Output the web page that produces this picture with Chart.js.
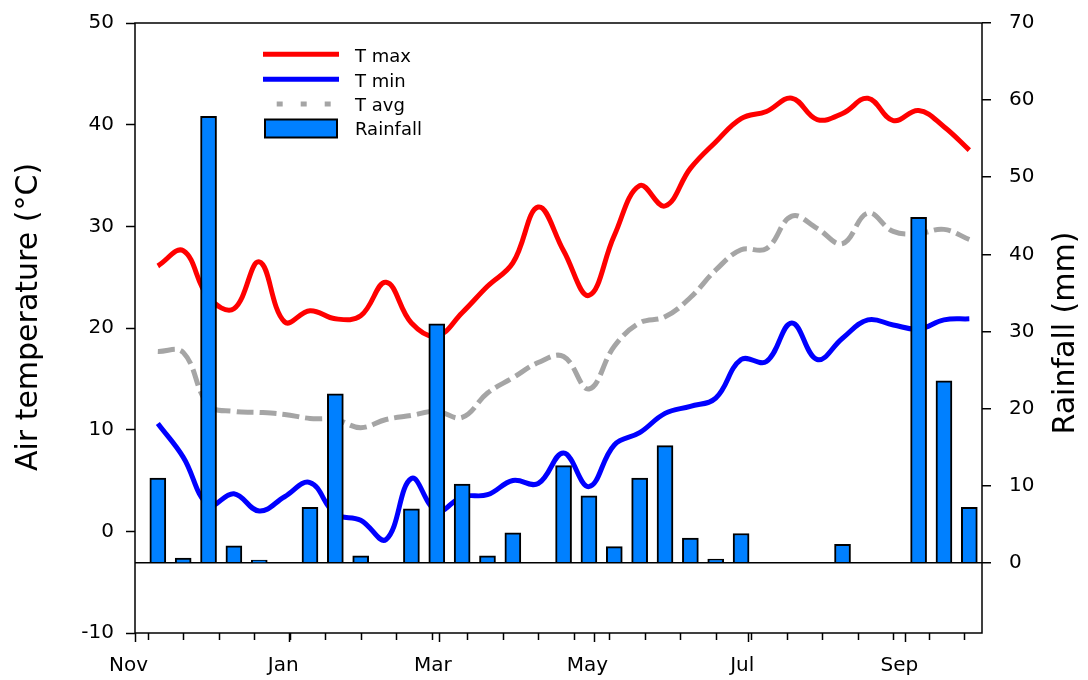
<!DOCTYPE html>
<html>
<head>
<meta charset="utf-8">
<script src="https://cdn.jsdelivr.net/npm/chart.js@4.4.1/dist/chart.umd.min.js"></script>
<style>
html,body{margin:0;padding:0;background:#fff;}
canvas{display:block;}
</style>
</head>
<body>
<canvas id="c" width="1088" height="680"></canvas>
<script>
// ---- data (days counted from 1 Nov) ----
const dekadDays = [9,19,29,39,49,59,69,79,89,99,109,119,129,139,149,159,169,179,189,199,209,219,229,239,249,259,269,279,289,299,309,319,329];
const tmax = [26.1,27.6,23.0,21.9,26.5,20.6,21.7,20.9,21.2,24.5,20.5,19.2,21.5,24.1,26.4,31.9,27.6,23.2,29.1,34.0,32.0,35.7,38.3,40.6,41.3,42.6,40.5,41.1,42.6,40.4,41.4,39.8,37.5];
const tmin = [10.6,7.3,2.6,3.7,2.0,3.4,4.8,1.7,1.1,-0.8,5.2,2.0,3.4,3.6,5.0,4.7,7.7,4.4,8.5,9.7,11.6,12.3,13.1,16.9,16.7,20.5,16.9,19.0,20.8,20.3,19.9,20.8,20.9];
const tavg = [17.7,17.6,12.4,11.8,11.7,11.5,11.1,11.0,10.2,11.0,11.4,11.8,11.2,13.6,15.1,16.6,17.2,14.0,18.2,20.5,21.1,23.0,25.7,27.7,27.8,31.0,29.8,28.3,31.3,29.5,29.3,29.7,28.7];
const rainfall = [11.0,0.6,57.9,2.2,0.35,0,7.2,21.9,0.9,0,7.0,31.0,10.2,0.9,3.9,0,12.6,8.7,2.1,11.0,15.2,3.2,0.5,3.8,0,0,0,2.4,0,0,44.8,23.6,7.2];
const monthDays = [0,61,120,181,242,304];
const monthLabels = ['Nov','Jan','Mar','May','Jul','Sep'];
const minorTickDays = [5,19,33,47,61,75,89,103,117,131,145,159,173,187,201,215,229,243,257,271,285,299,313,327];
const tempTicks = [-10,0,10,20,30,40,50];
const rainTicks = [0,10,20,30,40,50,60,70];
const seriesNames = ['T max','T min','T avg','Rainfall'];
const axisTitles = ['Air temperature (°C)','Rainfall (mm)'];

const FONT = "'DejaVu Sans', 'Liberation Sans', sans-serif";
Chart.defaults.font.family = FONT;
Chart.defaults.color = '#000';

const pts = arr => dekadDays.map((d, i) => ({x: d, y: arr[i]}));

const extras = {
  id: 'extras',
  afterDatasetsDraw(chart) {
    const ctx = chart.ctx, a = chart.chartArea, xs = chart.scales.x;
    ctx.save();
    ctx.strokeStyle = '#000';
    ctx.lineWidth = 1.5;
    ctx.strokeRect(a.left, a.top, a.right - a.left, a.bottom - a.top);
    // minor ticks
    ctx.beginPath();
    minorTickDays.forEach(d => {
      const x = Math.round(xs.getPixelForValue(d)) + 0.5;
      ctx.moveTo(x, a.bottom);
      ctx.lineTo(x, a.bottom + 7);
    });
    ctx.stroke();
    ctx.restore();
  },
  afterDraw(chart) {
    const ctx = chart.ctx;
    const ds = chart.data.datasets;
    ctx.save();
    // axis titles
    ctx.fillStyle = '#000';
    ctx.font = '30px ' + FONT;
    ctx.textAlign = 'center';
    ctx.textBaseline = 'alphabetic';
    ctx.save(); ctx.translate(37, 317); ctx.rotate(-Math.PI / 2); ctx.fillText(axisTitles[0], 0, 0); ctx.restore();
    ctx.save(); ctx.translate(1074, 333); ctx.rotate(-Math.PI / 2); ctx.fillText(axisTitles[1], 0, 0); ctx.restore();
    // legend
    const lx0 = 263, lx1 = 339, tx = 355;
    const rows = [54.3, 79.3, 104];
    ctx.lineCap = 'butt';
    for (let i = 0; i < 3; i++) {
      ctx.beginPath();
      ctx.strokeStyle = ds[i].borderColor;
      ctx.lineWidth = 5;
      if (i === 2) { ctx.setLineDash([6, 18]); ctx.moveTo(276.7, rows[i]); ctx.lineTo(332, rows[i]); }
      else { ctx.setLineDash([]); ctx.moveTo(lx0, rows[i]); ctx.lineTo(lx1, rows[i]); }
      ctx.stroke();
    }
    ctx.setLineDash([]);
    ctx.fillStyle = ds[3].backgroundColor;
    ctx.fillRect(265, 119.5, 72, 18);
    ctx.strokeStyle = '#000';
    ctx.lineWidth = 2;
    ctx.strokeRect(265, 119.5, 72, 18);
    ctx.fillStyle = '#000';
    ctx.font = '18px ' + FONT;
    ctx.textAlign = 'left';
    ctx.fillText(seriesNames[0], tx, 62.3);
    ctx.fillText(seriesNames[1], tx, 87);
    ctx.fillText(seriesNames[2], tx, 111);
    ctx.fillText(seriesNames[3], tx, 135);
    ctx.restore();
  }
};

new Chart(document.getElementById('c'), {
  type: 'bar',
  data: {
    datasets: [
      {type: 'line', label: seriesNames[0], data: pts(tmax), borderColor: '#FF0000', borderWidth: 5, pointRadius: 0, tension: 0.4, fill: false, borderCapStyle: 'butt', yAxisID: 'y', order: 3},
      {type: 'line', label: seriesNames[1], data: pts(tmin), borderColor: '#0000FF', borderWidth: 5, pointRadius: 0, tension: 0.4, fill: false, borderCapStyle: 'butt', yAxisID: 'y', order: 2},
      {type: 'line', label: seriesNames[2], data: pts(tavg), borderColor: '#A5A5A5', borderWidth: 5, borderDash: [17, 6], pointRadius: 0, tension: 0.4, fill: false, borderCapStyle: 'butt', yAxisID: 'y', order: 1},
      {type: 'bar', label: seriesNames[3], data: pts(rainfall), backgroundColor: '#0080FF', borderColor: '#000', borderWidth: 2, barThickness: 16, yAxisID: 'y2', order: 0}
    ]
  },
  options: {
    responsive: false,
    animation: false,
    layout: {padding: {top: 23, left: 0, right: 0, bottom: 0}},
    plugins: {legend: {display: false}, tooltip: {enabled: false}},
    scales: {
      x: {
        type: 'linear', min: 0, max: 334, offset: false,
        afterBuildTicks: s => { s.ticks = monthDays.map(v => ({value: v})); },
        afterFit: s => { s.height = 47; s.paddingLeft = 0; s.paddingRight = 0; },
        border: {display: false},
        grid: {display: true, drawOnChartArea: false, drawTicks: true, tickLength: 9, tickColor: '#000', tickWidth: 1.5, offset: false},
        ticks: {autoSkip: false, maxRotation: 0, minRotation: 0, padding: 12, labelOffset: -6.5, font: {size: 20}, color: '#000',
          callback: (v, i) => monthLabels[i]}
      },
      y: {
        type: 'linear', position: 'left', min: -10, max: 50,
        afterBuildTicks: s => { s.ticks = tempTicks.map(v => ({value: v})); },
        afterFit: s => { s.width = 135; s.paddingTop = 0; s.paddingBottom = 0; },
        border: {display: false},
        grid: {display: true, drawOnChartArea: false, drawTicks: true, tickLength: 9, tickColor: '#000', tickWidth: 1.5},
        ticks: {padding: 12, font: {size: 20}, color: '#000'}
      },
      y2: {
        type: 'linear', position: 'right', min: -9.1, max: 70,
        afterBuildTicks: s => { s.ticks = rainTicks.map(v => ({value: v})); },
        afterFit: s => { s.width = 106; s.paddingTop = 0; s.paddingBottom = 0; },
        border: {display: false},
        grid: {display: true, drawOnChartArea: true, drawTicks: true, tickLength: 9, tickColor: '#000', tickWidth: 1.5,
          lineWidth: 1.5, color: c => (c.tick && c.tick.value === 0) ? '#000' : 'rgba(0,0,0,0)'},
        ticks: {padding: 18, font: {size: 20}, color: '#000'}
      }
    }
  },
  plugins: [extras]
});
</script>
</body>
</html>
